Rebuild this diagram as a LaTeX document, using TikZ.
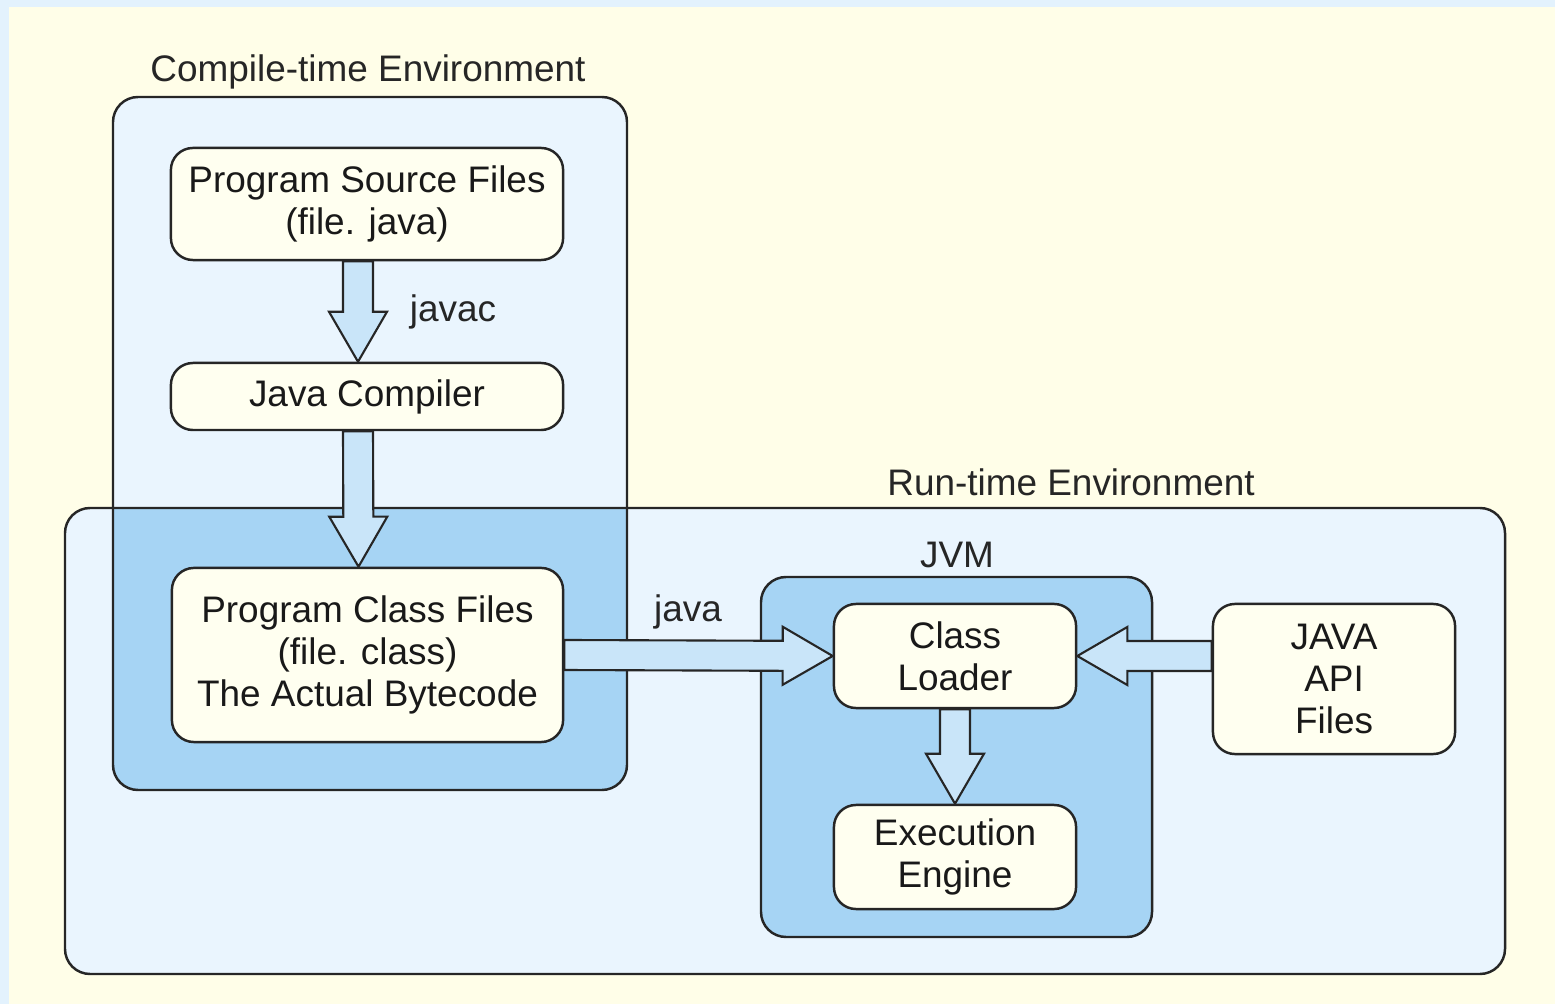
\documentclass[tikz,border=0pt]{standalone}
\usepackage{fontspec}
\setmainfont{Liberation Sans}
\usetikzlibrary{calc}

\definecolor{paper}{RGB}{255,254,232}
\definecolor{edge}{RGB}{227,242,253}
\definecolor{envfill}{RGB}{234,245,254}
\definecolor{jvmfill}{RGB}{166,212,244}
\definecolor{boxfill}{RGB}{255,255,240}
\definecolor{arrowfill}{RGB}{201,229,249}

\tikzset{
  env/.style={draw=black!85, line width=0.7pt, rounded corners=0.25cm},
  file/.style={draw=black!85, line width=0.7pt, fill=boxfill, rounded corners=0.22cm,
    align=center, font=\fontsize{10.5}{12}\selectfont, text=black!90},
  fatarrow/.style={draw=black!85, line width=0.6pt, fill=arrowfill},
  envlabel/.style={font=\fontsize{10.5}{12}\selectfont, text=black!85}
}

% block arrow from #1 to #2
\newcommand{\fatarrow}[2]{%
  \coordinate (fa-base) at ($(#2)!0.5cm!(#1)$);
  \draw[fatarrow] ($(#1)!0.15cm!90:(#2)$) -- ($(fa-base)!0.15cm!90:(#2)$)
    -- ($(fa-base)!0.29cm!90:(#2)$) -- (#2) -- ($(fa-base)!0.29cm!-90:(#2)$)
    -- ($(fa-base)!0.15cm!-90:(#2)$) -- ($(#1)!0.15cm!-90:(#2)$) -- cycle;}

\begin{document}
\begin{tikzpicture}[x=0.01cm, y=-0.01cm]
    % backdrop
    \fill[edge] (0,0) rectangle (1555,1004);
    \fill[paper] (9,7) rectangle (1555,1004);

    % environments
    \fill[envfill, rounded corners=0.25cm] (65,508) rectangle (1505,974);
    \fill[envfill, rounded corners=0.25cm] (113,97) rectangle (627,790);
    \begin{scope}
      \clip[rounded corners=0.25cm] (113,97) rectangle (627,790);
      \fill[jvmfill, rounded corners=0.25cm] (65,508) rectangle (1505,974);
    \end{scope}
    \draw[env] (65,508) rectangle (1505,974);
    \draw[env] (113,97) rectangle (627,790);
    \draw[env, fill=jvmfill] (761,577) rectangle (1152,937);

    \node[envlabel] (ctlabel) at (368,72) {Compile-time Environment};
    \node[envlabel] (rtlabel) at (1071,482) {Run-time Environment};
    \node[envlabel] (jvmlabel) at (957,555) {JVM};

    % files and parts
    \node[file, minimum width=3.92cm, minimum height=1.12cm] (src) at (367,204) {Program Source Files\\(file. java)};
    \node[file, minimum width=3.92cm, minimum height=0.67cm] (comp) at (367,396.5) {Java Compiler};
    \node[file, minimum width=3.91cm, minimum height=1.74cm] (cls) at (367.5,655) {Program Class Files\\(file. class)\\The Actual Bytecode};
    \node[file, minimum width=2.42cm, minimum height=1.04cm] (loader) at (955,656) {Class\\Loader};
    \node[file, minimum width=2.42cm, minimum height=1.04cm] (engine) at (955,857) {Execution\\Engine};
    \node[file, minimum width=2.42cm, minimum height=1.50cm] (api) at (1334,679) {JAVA\\API\\Files};

    % arrows
    \coordinate (javac-tail) at ($(src.south)+(-9,0)$);
    \coordinate (javac-tip) at ($(comp.north)+(-9,0)$);
    \fatarrow{javac-tail}{javac-tip}
    \coordinate (out-tail) at ($(comp.south)+(-9,0)$);
    \coordinate (out-tip) at ($(cls.north)+(-9,0)$);
    \fatarrow{out-tail}{out-tip}
    \fatarrow{cls.east}{loader.west}
    \coordinate (api-tail) at (api.west |- loader.east);
    \fatarrow{api-tail}{loader.east}
    \fatarrow{loader.south}{engine.north}

    \node[envlabel] (javac) at (453,312) {javac};
    \node[envlabel] (java) at (688,612) {java};
\end{tikzpicture}
\end{document}
